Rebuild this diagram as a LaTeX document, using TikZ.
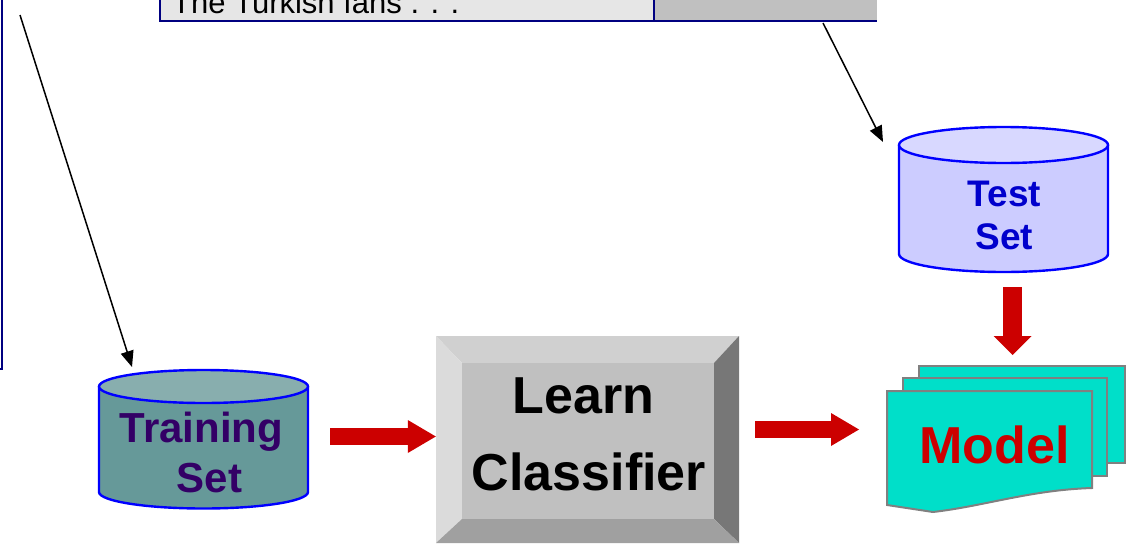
\documentclass[tikz,border=0pt]{standalone}
\usepackage{fontspec}
\setmainfont{Liberation Sans}
\usetikzlibrary{arrows.meta}

\definecolor{navy}{HTML}{000080}
\definecolor{cellA}{HTML}{E6E6E6}
\definecolor{cellB}{HTML}{C0C0C0}
\definecolor{flowred}{HTML}{CC0000}
\definecolor{trainbody}{HTML}{669999}
\definecolor{traintop}{HTML}{88AEAE}
\definecolor{trainink}{HTML}{330066}
\definecolor{testbody}{HTML}{CCCCFF}
\definecolor{testtop}{HTML}{D8D8FF}
\definecolor{testink}{HTML}{0000CC}
\definecolor{cylblue}{HTML}{0000FF}
\definecolor{docfill}{HTML}{00DFC9}
\definecolor{docline}{HTML}{808080}
\definecolor{bevtop}{HTML}{D0D0D0}
\definecolor{bevleft}{HTML}{DBDBDB}
\definecolor{bevright}{HTML}{777777}
\definecolor{bevbottom}{HTML}{A0A0A0}
\definecolor{face}{HTML}{C0C0C0}

\tikzset{
  gridline/.style={draw=navy, line width=2pt},
  cylline/.style={draw=cylblue, line width=2.4pt},
  doc/.style={draw=docline, line width=2pt, fill=docfill},
  thinarrow/.style={draw=black, line width=1.5pt, -{Triangle[width=13pt, length=16pt]}},
  flowarrow/.style={draw=flowred, line width=17pt, -{Triangle[line width=0pt, width=33pt, length=28pt]}},
  downarrow/.style={draw=flowred, line width=19pt, -{Triangle[line width=0pt, width=38pt, length=19pt]}},
  lbl/.style={anchor=base, inner sep=0pt, font=\bfseries},
}

\begin{document}
\begin{tikzpicture}[x=1pt, y=-1pt]
\useasboundingbox (0,0) rectangle (1131,549);
\clip (0,0) rectangle (1131,549);

% table row along the top edge
\fill[cellA] (160,-5) rectangle (654,20.5);
\fill[cellB] (654,-5) rectangle (877,20.5);
\draw[gridline] (160,-5) -- (160,20.5) -- (877,20.5);
\draw[gridline] (654,-5) -- (654,20.5);
\node[anchor=base west, inner sep=0pt, font=\fontsize{31}{36}\selectfont] (fans) at (172,13) {The Turkish fans . . .};

% document frame on the left edge
\draw[gridline] (2,-5) -- (2,369) -- (-5,369);

% training set cylinder
\fill[trainbody] (99,386.5) -- (99,492) arc[start angle=180, end angle=360, x radius=104.5pt, y radius=16.5pt] -- (308,386.5) -- cycle;
\draw[cylline] (99,386.5) -- (99,492) arc[start angle=180, end angle=360, x radius=104.5pt, y radius=16.5pt] -- (308,386.5);
\draw[cylline, fill=traintop] (203.5,386.5) ellipse[x radius=104.5pt, y radius=16.5pt];
\node[lbl, text=trainink, font=\bfseries\fontsize{42}{50}\selectfont] (trainA) at (201.5,442) {Training};
\node[lbl, text=trainink, font=\bfseries\fontsize{42}{50}\selectfont] (trainB) at (209.5,492) {Set};

% test set cylinder
\fill[testbody] (899,145) -- (899,254) arc[start angle=180, end angle=360, x radius=104.5pt, y radius=18pt] -- (1108,145) -- cycle;
\draw[cylline] (899,145) -- (899,254) arc[start angle=180, end angle=360, x radius=104.5pt, y radius=18pt] -- (1108,145);
\draw[cylline, fill=testtop] (1003.5,145) ellipse[x radius=104.5pt, y radius=18pt];
\node[lbl, text=testink, font=\bfseries\fontsize{37}{43}\selectfont] (testA) at (1004.5,206) {Test};
\node[lbl, text=testink, font=\bfseries\fontsize{37}{43}\selectfont] (testB) at (1004.5,249) {Set};

% bevelled button
\node[minimum width=303pt, minimum height=207pt, inner sep=0pt] (learn) at (587.5,439.5) {};
\fill[bevtop] (436,336) -- (739,336) -- (714,363) -- (462,363) -- cycle;
\fill[bevleft] (436,336) -- (462,363) -- (462,519) -- (436,543) -- cycle;
\fill[bevright] (739,336) -- (739,543) -- (714,519) -- (714,363) -- cycle;
\fill[bevbottom] (436,543) -- (739,543) -- (714,519) -- (462,519) -- cycle;
\fill[face] (462,363) rectangle (714,519);
\node[lbl, font=\bfseries\fontsize{52}{60}\selectfont] (learnA) at (583.5,413) {Learn};
\node[lbl, font=\bfseries\fontsize{52}{60}\selectfont] (learnB) at (589,490) {Classifier};

% stacked model documents
\draw[doc] (919,366) rectangle (1125,463);
\draw[doc] (903,378) rectangle (1107,476);
\draw[doc] (887,391) -- (1092,391) -- (1092,488) .. controls (1030,490) and (985,506) .. (933,512) -- (887,505) -- cycle;
\node[minimum width=205pt, minimum height=115pt, inner sep=0pt] (model) at (989.5,450) {};
\node[lbl, text=flowred, font=\bfseries\fontsize{52}{60}\selectfont] (modelA) at (994.5,463) {Model};

% connectors
\coordinate (src1) at (20,15);
\coordinate (dst1) at (132,367);
\coordinate (src2) at (823,23);
\coordinate (dst2) at (883,142);
\draw[thinarrow] (src1) -- (dst1);
\draw[thinarrow] (src2) -- (dst2);

\coordinate (f1) at (330,436.5);
\draw[flowarrow] (f1) -- (f1 -| learn.west);
\coordinate (f2) at (755,429.5);
\coordinate (f2e) at (859,429.5);
\draw[flowarrow] (f2) -- (f2e);
\coordinate (f3) at (1012.5,287);
\coordinate (f3e) at (1012.5,355);
\draw[downarrow] (f3) -- (f3e);
\end{tikzpicture}
\end{document}
